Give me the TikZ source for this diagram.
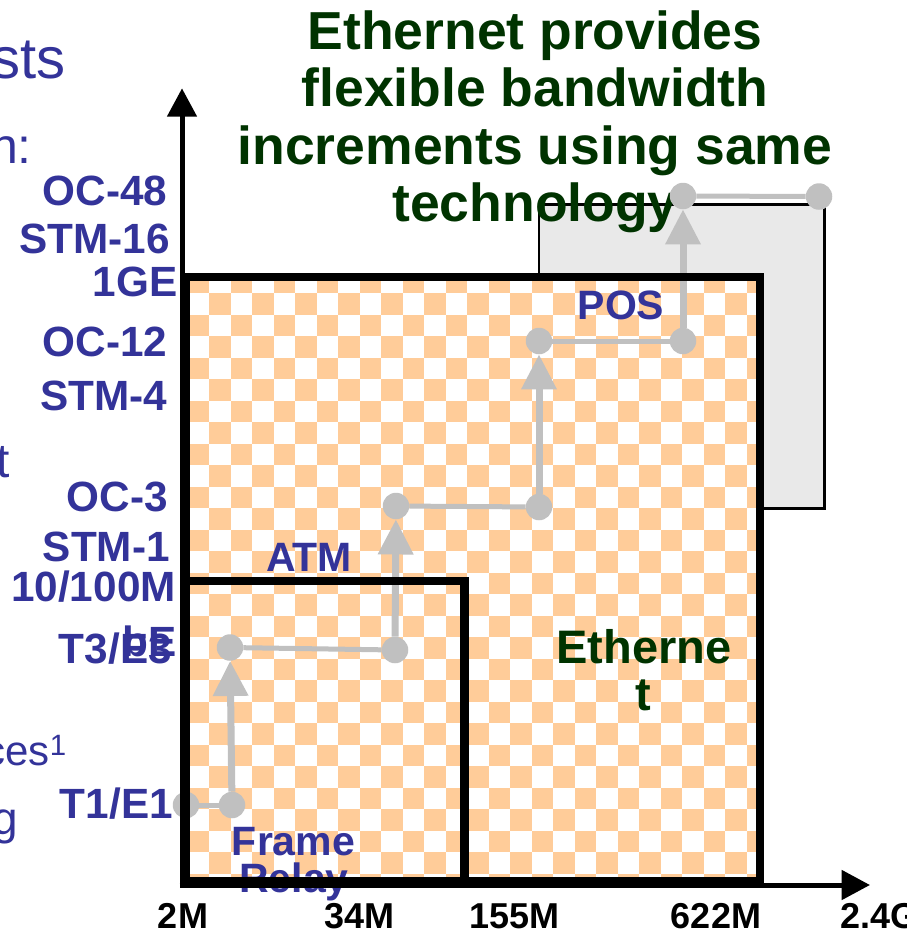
\documentclass[tikz,border=0pt]{standalone}
\usepackage{fontspec}
\setmainfont{Liberation Sans}
\usetikzlibrary{arrows.meta}
\definecolor{labelblue}{HTML}{333399}
\definecolor{titlegreen}{HTML}{003300}
\definecolor{peach}{HTML}{FFCC99}
\definecolor{pathgray}{HTML}{C0C0C0}
\definecolor{boxgray}{HTML}{E9E9E9}
\newcommand{\setpx}[1]{\fontsize{#1}{#1}\selectfont}

\begin{document}
\begin{tikzpicture}[x=1pt,y=-1pt,
  ratelab/.style={font=\bfseries\setpx{42.3}, text=labelblue, inner sep=0pt, anchor=base east},
  techlab/.style={font=\bfseries\setpx{41}, text=labelblue, inner sep=0pt, anchor=base},
  etherlab/.style={font=\bfseries\setpx{47}, text=titlegreen, inner sep=0pt, anchor=base},
  titlelab/.style={font=\bfseries\setpx{53.5}, text=titlegreen, inner sep=0pt, anchor=base},
  speedlab/.style={font=\bfseries\setpx{36}, text=black, inner sep=0pt, anchor=base},
  slidetext/.style={text=labelblue, inner sep=0pt, anchor=base east},
  hop/.style={circle, fill=pathgray, minimum size=26.5pt, inner sep=0pt},
  link/.style={draw=pathgray, line width=5pt},
  climb/.style={draw=pathgray, line width=7pt, -{Triangle[width=34pt,length=35pt]}},
  bandbox/.style={draw=black, line width=8.5pt},
  axisline/.style={draw=black, line width=5pt, -{Triangle[width=29pt,length=28.4pt]}}
]
\useasboundingbox (0,0) rectangle (907,935);

% fragments of the surrounding slide text
\node[slidetext, font=\setpx{58}] (frag1) at (66,78) {sts};
\node[slidetext, font=\setpx{50}] (frag2) at (32,163) {n:};
\node[slidetext, font=\setpx{48}] (frag3) at (10,477) {t};
\node[slidetext, font=\setpx{42}] (frag4) at (67,765) {ces\textsuperscript{1}};
\node[slidetext, font=\setpx{46}] (frag5) at (18,834) {g};

% grey SONET/SDH region behind the Ethernet box
\draw[fill=boxgray, line width=2.5pt] (539,204.5) rectangle (824.5,508.5);

% heading
\node[titlelab] (title1) at (535,49.2) {Ethernet provides};
\node[titlelab] (title2) at (535,106.7) {flexible bandwidth};
\node[titlelab] (title3) at (535,164.2) {increments using same};
\node[titlelab] (title4) at (535,221.7) {technology};

% checkered Ethernet area
\begin{scope}
  \clip (186,277) rectangle (760,881.5);
  \fill[white] (186,277) rectangle (760,881.5);
  \foreach \r in {0,...,28}{
    \foreach \k in {0,...,13}{
      \pgfmathsetmacro{\cx}{187.7+(2*\k+mod(\r,2))*21.5}
      \pgfmathsetmacro{\cy}{271.8+\r*21.5}
      \fill[peach] (\cx,\cy) rectangle ++(21.5,21.5);
    }
  }
\end{scope}

\node[techlab] (fr1) at (293.5,855) {Frame};
\node[techlab] (fr2) at (294,892) {Relay};

% migration path
\node[hop] (p1) at (186,805) {};
\node[hop] (p2) at (232,805) {};
\node[hop] (p3) at (230,647.5) {};
\node[hop] (p4) at (395,650) {};
\node[hop] (p5) at (396,506) {};
\node[hop] (p6) at (539,507) {};
\node[hop] (p7) at (539,341) {};
\node[hop] (p8) at (683,341) {};
\node[hop] (p9) at (683,196) {};
\node[hop] (p10) at (819,196.5) {};
\draw[link] (p1) -- (p2);
\draw[link] (p3) -- (p4);
\draw[link] (p5) -- (p6);
\draw[link] (p7) -- (p8);
\draw[link] (p9) -- (p10);
\draw[climb] (p2) -- (p3);
\draw[climb] (p4) -- (p5);
\draw[climb] (p6) -- (p7);
\draw[climb] (p8) -- (p9);

% band boxes
\draw[bandbox] (186,881.5) rectangle (760,277);
\draw[bandbox] (186,881.5) rectangle (464.5,581);

% axes
\coordinate (origin) at (182,885);
\coordinate (ytip) at (182,88.3);
\coordinate (xtip) at (870,885);
\draw[axisline] (182,887.5) -- (ytip);
\draw[axisline] (179.5,885) -- (xtip);

% technology labels
\node[techlab] (atm) at (309,571) {ATM};
\node[techlab] (pos) at (621,319.5) {POS};
\node[etherlab] (eth1) at (644,663) {Etherne};
\node[etherlab] (eth2) at (643,710) {t};

% rate labels on the vertical axis
\node[ratelab] (oc48) at (167.5,205) {OC-48};
\node[ratelab] (stm16) at (170,253) {STM-16};
\node[ratelab] (ge1) at (177.5,296) {1GE};
\node[ratelab] (oc12) at (167.5,356) {OC-12};
\node[ratelab] (stm4) at (167.5,410) {STM-4};
\node[ratelab] (oc3) at (168,511) {OC-3};
\node[ratelab] (stm1) at (170,561) {STM-1};
\node[ratelab] (fe) at (176,601) {10/100M};
\node[ratelab] (t3) at (172,663) {T3/E3};
\node[ratelab] (t3b) at (177,656) {bE};
\node[ratelab] (t1) at (173,818) {T1/E1};

% speed labels on the horizontal axis
\node[speedlab] (s2m) at (183,928) {2M};
\node[speedlab] (s34m) at (359.5,928) {34M};
\node[speedlab] (s155m) at (514.7,928) {155M};
\node[speedlab] (s622m) at (716,928) {622M};
\node[speedlab, anchor=base west] (s24g) at (840,928) {2.4G};
\end{tikzpicture}
\end{document}
